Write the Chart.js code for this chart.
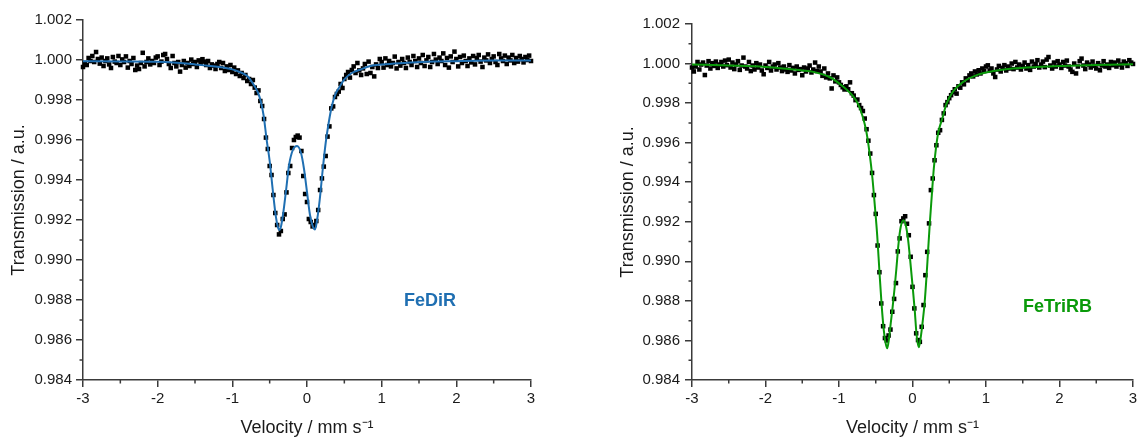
<!DOCTYPE html>
<html>
<head>
  <title>Mössbauer spectra - FeDiR / FeTriRB</title>
  <script src="https://cdn.jsdelivr.net/npm/chart.js"></script>
  <style>
    body { margin: 0; background: #fff; }
    canvas { position: absolute; top: 0; }
    #left { left: 0; }
    #right { left: 600px; }
    .tag { position: absolute; font: bold 18px "Liberation Sans", Arial, sans-serif; white-space: nowrap; }
  </style>
</head>
<body>
  <canvas id="left" width="560" height="439"></canvas>
  <canvas id="right" width="537" height="439"></canvas>
  <div class="tag" style="left:404px; top:290px; color:#1f6fb2">FeDiR</div>
  <div class="tag" style="left:1023px; top:296px; color:#0a9a0a">FeTriRB</div>

  <script>
    // velocity channels (mm/s), shared by both spectra
    const velocity = [
      -3, -2.975, -2.95, -2.925, -2.9, -2.875, -2.85, -2.825, -2.8, -2.775,
      -2.75, -2.725, -2.7, -2.675, -2.65, -2.625, -2.6, -2.575, -2.55, -2.525,
      -2.5, -2.475, -2.45, -2.425, -2.4, -2.375, -2.35, -2.325, -2.3, -2.275,
      -2.25, -2.225, -2.2, -2.175, -2.15, -2.125, -2.1, -2.075, -2.05, -2.025,
      -2, -1.975, -1.95, -1.925, -1.9, -1.875, -1.85, -1.825, -1.8, -1.775,
      -1.75, -1.725, -1.7, -1.675, -1.65, -1.625, -1.6, -1.575, -1.55, -1.525,
      -1.5, -1.475, -1.45, -1.425, -1.4, -1.375, -1.35, -1.325, -1.3, -1.275,
      -1.25, -1.225, -1.2, -1.175, -1.15, -1.125, -1.1, -1.075, -1.05, -1.025,
      -1, -0.975, -0.95, -0.925, -0.9, -0.875, -0.85, -0.825, -0.8, -0.775,
      -0.75, -0.725, -0.7, -0.675, -0.65, -0.625, -0.6, -0.575, -0.55, -0.525,
      -0.5, -0.475, -0.45, -0.425, -0.4, -0.375, -0.35, -0.325, -0.3, -0.275,
      -0.25, -0.225, -0.2, -0.175, -0.15, -0.125, -0.1, -0.075, -0.05, -0.025,
      0, 0.025, 0.05, 0.075, 0.1, 0.125, 0.15, 0.175, 0.2, 0.225,
      0.25, 0.275, 0.3, 0.325, 0.35, 0.375, 0.4, 0.425, 0.45, 0.475,
      0.5, 0.525, 0.55, 0.575, 0.6, 0.625, 0.65, 0.675, 0.7, 0.725,
      0.75, 0.775, 0.8, 0.825, 0.85, 0.875, 0.9, 0.925, 0.95, 0.975,
      1, 1.025, 1.05, 1.075, 1.1, 1.125, 1.15, 1.175, 1.2, 1.225,
      1.25, 1.275, 1.3, 1.325, 1.35, 1.375, 1.4, 1.425, 1.45, 1.475,
      1.5, 1.525, 1.55, 1.575, 1.6, 1.625, 1.65, 1.675, 1.7, 1.725,
      1.75, 1.775, 1.8, 1.825, 1.85, 1.875, 1.9, 1.925, 1.95, 1.975,
      2, 2.025, 2.05, 2.075, 2.1, 2.125, 2.15, 2.175, 2.2, 2.225,
      2.25, 2.275, 2.3, 2.325, 2.35, 2.375, 2.4, 2.425, 2.45, 2.475,
      2.5, 2.525, 2.55, 2.575, 2.6, 2.625, 2.65, 2.675, 2.7, 2.725,
      2.75, 2.775, 2.8, 2.825, 2.85, 2.875, 2.9, 2.925, 2.95, 2.975,
      3
    ];

    // FeDiR measured transmission
    const fediR = [
      0.99965, 0.99985, 0.99975, 1.00010, 0.99995, 1.00020, 0.99990, 1.00040, 1.00005, 0.99982,
      1.00012, 0.99970, 0.99995, 1.00008, 0.99978, 0.99960, 1.00015, 0.99992, 0.99985, 1.00020,
      0.99975, 1.00003, 0.99990, 1.00018, 0.99962, 0.99995, 0.99980, 1.00010, 0.99950, 0.99972,
      0.99955, 0.99985, 1.00036, 0.99968, 0.99990, 1.00008, 0.99978, 0.99995, 0.99985, 1.00012,
      1.00018, 0.99975, 0.99992, 1.00025, 1.00030, 1.00005, 0.99980, 0.99960, 1.00020, 0.99985,
      0.99968, 0.99990, 0.99942, 0.99975, 0.99995, 0.99962, 0.99985, 0.99970, 1.00002, 0.99980,
      0.99990, 0.99965, 0.99998, 0.99985, 1.00004, 0.99992, 0.99975, 0.99995, 0.99960, 0.99978,
      0.99972, 0.99955, 0.99980, 0.99990, 0.99960, 0.99985, 0.99945, 0.99968, 0.99950, 0.99975,
      0.99940, 0.99962, 0.99930, 0.99948, 0.99920, 0.99935, 0.99910, 0.99925, 0.99895, 0.99905,
      0.99880, 0.99900, 0.99862, 0.99835, 0.99848, 0.99795, 0.99770, 0.99705, 0.99612, 0.99555,
      0.99470, 0.99425, 0.99325, 0.99235, 0.99175, 0.99128, 0.99145, 0.99205, 0.99228, 0.99338,
      0.99435, 0.99470, 0.99560, 0.99600, 0.99615, 0.99622, 0.99612, 0.99545, 0.99420, 0.99330,
      0.99290, 0.99205, 0.99190, 0.99168, 0.99175, 0.99195, 0.99250, 0.99350, 0.99408, 0.99467,
      0.99520, 0.99617, 0.99668, 0.99758, 0.99768, 0.99815, 0.99830, 0.99842, 0.99880, 0.99860,
      0.99905, 0.99925, 0.99940, 0.99912, 0.99950, 0.99968, 0.99935, 0.99985, 0.99948, 0.99925,
      0.99958, 0.99980, 0.99930, 0.99992, 0.99935, 0.99965, 0.99918, 0.99978, 0.99960, 1.00005,
      0.99990, 0.99962, 1.00008, 0.99975, 0.99995, 0.99968, 0.99985, 1.00017, 0.99958, 0.99990,
      0.99972, 1.00005, 0.99985, 0.99960, 1.00012, 0.99990, 0.99975, 1.00020, 0.99995, 0.99965,
      1.00008, 0.99985, 1.00025, 0.99970, 0.99998, 1.00015, 0.99965, 0.99990, 1.00030, 1.00002,
      0.99980, 1.00012, 0.99995, 1.00033, 0.99975, 1.00010, 0.99962, 1.00018, 0.99990, 1.00042,
      1.00005, 0.99968, 1.00015, 0.99985, 1.00022, 0.99995, 0.99970, 1.00008, 0.99988, 1.00020,
      0.99978, 1.00010, 1.00025, 0.99992, 0.99965, 1.00012, 0.99998, 1.00028, 0.99985, 1.00005,
      1.00018, 0.99990, 0.99975, 1.00030, 1.00008, 0.99995, 1.00022, 0.99980, 1.00012, 0.99998,
      1.00025, 0.99985, 1.00010, 0.99992, 1.00020, 1.00005, 0.99988, 1.00015, 1.00000, 1.00022,
      0.99995
    ];

    // FeDiR fitted doublet
    const fediRFitX = [
      -3, -2.5, -2, -1.5, -1.2, -1, -0.9, -0.8, -0.72, -0.66, -0.62, -0.58, -0.54, -0.5, -0.46, -0.42,
      -0.39, -0.37, -0.35, -0.32, -0.28, -0.24, -0.19, -0.133, -0.08, -0.04, 0, 0.04, 0.08, 0.107,
      0.135, 0.17, 0.21, 0.25, 0.29, 0.33, 0.38, 0.44, 0.5, 0.6, 0.7, 0.85, 1, 1.3, 1.6, 2, 2.5, 3
    ];
    const fediRFitY = [
      0.99994, 0.99993, 0.99991, 0.99978, 0.99966, 0.99953, 0.99940, 0.99920, 0.99880, 0.99840,
      0.99795, 0.99720, 0.99600, 0.99495, 0.99355, 0.99225, 0.99165, 0.99150, 0.99165, 0.99230,
      0.99350, 0.99475, 0.99550, 0.99570, 0.99535, 0.99455, 0.99340, 0.99225, 0.99165, 0.99153,
      0.99200, 0.99300, 0.99450, 0.99585, 0.99685, 0.99765, 0.99828, 0.99868, 0.99903, 0.99935,
      0.99950, 0.99970, 0.99977, 0.99985, 0.99991, 0.99994, 0.99997, 0.99998
    ];

    // FeTriRB measured transmission
    const feTriRB = [
      0.99980, 0.99960, 0.99985, 1.00008, 0.99970, 0.99995, 1.00005, 0.99942, 0.99990, 1.00012,
      0.99975, 1.00002, 0.99988, 1.00010, 0.99978, 0.99995, 1.00008, 0.99985, 1.00015, 0.99992,
      1.00020, 0.99980, 1.00005, 0.99972, 0.99995, 1.00012, 0.99968, 0.99990, 1.00030, 0.99985,
      0.99975, 1.00008, 0.99962, 0.99990, 0.99970, 1.00002, 0.99980, 0.99995, 0.99965, 0.99946,
      0.99990, 0.99978, 1.00008, 0.99965, 0.99985, 0.99995, 0.99970, 1.00002, 0.99980, 0.99962,
      0.99985, 0.99970, 0.99958, 0.99992, 0.99965, 0.99978, 0.99950, 0.99985, 0.99968, 0.99972,
      0.99941, 0.99980, 0.99960, 0.99975, 0.99990, 0.99955, 0.99970, 1.00005, 0.99962, 0.99985,
      0.99960, 0.99938, 0.99975, 0.99930, 0.99950, 0.99925, 0.99874, 0.99940, 0.99910, 0.99930,
      0.99905, 0.99892, 0.99880, 0.99869, 0.99885, 0.99870, 0.99905, 0.99850, 0.99838, 0.99815,
      0.99818, 0.99790, 0.99775, 0.99760, 0.99722, 0.99668, 0.99610, 0.99545, 0.99447, 0.99335,
      0.99240, 0.99080, 0.98945, 0.98787, 0.98672, 0.98612, 0.98600, 0.98625, 0.98655, 0.98745,
      0.98810, 0.98890, 0.99050, 0.99116, 0.99203, 0.99217, 0.99228, 0.99190, 0.99132, 0.99023,
      0.98871, 0.98762, 0.98636, 0.98602, 0.98593, 0.98669, 0.98779, 0.98930, 0.99048, 0.99192,
      0.99360, 0.99419, 0.99511, 0.99587, 0.99650, 0.99663, 0.99715, 0.99748, 0.99790, 0.99805,
      0.99825, 0.99840, 0.99855, 0.99870, 0.99848, 0.99885, 0.99878, 0.99905, 0.99895, 0.99925,
      0.99915, 0.99940, 0.99950, 0.99935, 0.99960, 0.99945, 0.99966, 0.99950, 0.99975, 0.99962,
      0.99985, 0.99991, 0.99965, 0.99975, 0.99950, 0.99932, 0.99970, 0.99988, 0.99960, 0.99978,
      0.99992, 0.99965, 0.99985, 0.99975, 1.00000, 0.99972, 1.00008, 0.99980, 0.99995, 0.99970,
      0.99988, 1.00005, 0.99975, 0.99992, 0.99968, 1.00010, 0.99985, 0.99998, 1.00017, 0.99980,
      0.99995, 1.00010, 0.99982, 1.00020, 1.00033, 0.99990, 0.99975, 1.00005, 0.99985, 1.00012,
      0.99995, 0.99978, 1.00008, 0.99990, 1.00015, 0.99985, 0.99970, 0.99958, 1.00000, 0.99950,
      0.99985, 1.00012, 1.00025, 0.99990, 0.99972, 1.00005, 0.99995, 0.99980, 1.00010, 0.99988,
      0.99975, 1.00002, 0.99966, 0.99990, 1.00012, 0.99985, 0.99995, 0.99978, 1.00008, 0.99992,
      1.00005, 0.99985, 1.00015, 0.99995, 0.99980, 1.00010, 1.00002, 0.99988, 1.00017, 1.00005,
      0.99998
    ];

    // FeTriRB fitted doublet
    const feTriRBFitX = [
      -3, -2.5, -2, -1.8, -1.5, -1.35, -1.13, -0.95, -0.81, -0.74, -0.68, -0.63, -0.585, -0.545,
      -0.51, -0.48, -0.45, -0.42, -0.39, -0.365, -0.344, -0.32, -0.295, -0.27, -0.245, -0.22,
      -0.19, -0.16, -0.122, -0.09, -0.06, -0.03, 0, 0.03, 0.055, 0.085, 0.11, 0.14, 0.165, 0.19,
      0.21, 0.235, 0.26, 0.29, 0.32, 0.35, 0.41, 0.46, 0.55, 0.68, 0.9, 1.1, 1.36, 1.7, 2.04, 2.5, 3
    ];
    const feTriRBFitY = [
      0.99995, 0.99990, 0.99983, 0.99976, 0.99965, 0.99958, 0.99932, 0.99885, 0.99835, 0.99795,
      0.99735, 0.99660, 0.99550, 0.99420, 0.99270, 0.99130, 0.98950, 0.98780, 0.98650, 0.98585,
      0.98560, 0.98610, 0.98690, 0.98770, 0.98860, 0.98960, 0.99090, 0.99175, 0.99208, 0.99180,
      0.99110, 0.99000, 0.98880, 0.98755, 0.98630, 0.98565, 0.98610, 0.98700, 0.98790, 0.98920,
      0.99040, 0.99190, 0.99320, 0.99470, 0.99575, 0.99650, 0.99728, 0.99795, 0.99858, 0.99905,
      0.99945, 0.99962, 0.99975, 0.99983, 0.99988, 0.99993, 0.99996
    ];

    const xTicks = [-3, -2, -1, 0, 1, 2, 3];
    const xMinor = [-2.5, -1.5, -0.5, 0.5, 1.5, 2.5];
    const yTicks = [0.984, 0.986, 0.988, 0.990, 0.992, 0.994, 0.996, 0.998, 1.000, 1.002];
    const yMinor = [0.985, 0.987, 0.989, 0.991, 0.993, 0.995, 0.997, 0.999, 1.001];

    const AXIS = '#3a3a3a';
    const FONT = '"Liberation Sans", Arial, Helvetica, sans-serif';
    Chart.defaults.font.family = FONT;
    Chart.defaults.color = '#1a1a1a';

    // Origin-style short minor ticks on the outside of both axes
    const minorTicks = {
      id: 'minorTicks',
      afterDraw(chart) {
        const { ctx, chartArea, scales: { x, y } } = chart;
        ctx.save();
        ctx.strokeStyle = AXIS;
        ctx.lineWidth = 1.5;
        ctx.beginPath();
        yMinor.forEach(v => {
          const py = y.getPixelForValue(v);
          ctx.moveTo(chartArea.left - 3.5, py);
          ctx.lineTo(chartArea.left, py);
        });
        xMinor.forEach(v => {
          const px = x.getPixelForValue(v);
          ctx.moveTo(px, chartArea.bottom);
          ctx.lineTo(px, chartArea.bottom + 3.5);
        });
        ctx.stroke();
        ctx.restore();
      }
    };

    function toPoints(xs, ys) {
      return xs.map((v, i) => ({ x: v, y: ys[i] }));
    }

    function makeChart(id, data, fitX, fitY, lineColor, layout) {
      const ctx = document.getElementById(id).getContext('2d');
      return new Chart(ctx, {
        type: 'scatter',
        data: {
          datasets: [
            {
              label: 'fit',
              data: toPoints(fitX, fitY),
              showLine: true,
              borderColor: lineColor,
              borderWidth: 2,
              pointRadius: 0,
              cubicInterpolationMode: 'monotone',
              clip: false
            },
            {
              label: 'data',
              data: toPoints(velocity, data),
              pointStyle: 'rect',
              pointRadius: 3.2,
              pointBorderWidth: 0,
              backgroundColor: '#000',
              borderColor: '#000',
              clip: false
            }
          ]
        },
        options: {
          responsive: false,
          animation: false,
          devicePixelRatio: 1,
          layout: { padding: { top: layout.top, right: layout.right, left: 0, bottom: 0 } },
          plugins: { legend: { display: false }, tooltip: { enabled: false } },
          scales: {
            x: {
              type: 'linear',
              min: -3,
              max: 3,
              afterBuildTicks: s => { s.ticks = xTicks.map(v => ({ value: v })); },
              afterFit: s => { s.height = 59; s.paddingLeft = 0; s.paddingRight = 0; },
              grid: { drawOnChartArea: false, tickLength: 7, color: AXIS, lineWidth: 1.5 },
              border: { display: true, color: AXIS, width: 1.5 },
              ticks: { font: { size: 15 }, padding: 3, maxRotation: 0, autoSkip: false },
              title: {
                display: true,
                text: 'Velocity / mm s\u207B\u00B9',
                font: { size: 18 },
                padding: { top: 0, bottom: 0 }
              }
            },
            y: {
              type: 'linear',
              min: 0.984,
              max: 1.002,
              afterBuildTicks: s => { s.ticks = yTicks.map(v => ({ value: v })); },
              afterFit: s => { s.width = layout.yWidth; },
              grid: { drawOnChartArea: false, tickLength: 7, color: AXIS, lineWidth: 1.5 },
              border: { display: true, color: AXIS, width: 1.5 },
              ticks: { font: { size: 15 }, padding: layout.tickPad, autoSkip: false, callback: v => v.toFixed(3) },
              title: {
                display: true,
                text: 'Transmission / a.u.',
                font: { size: 18 },
                padding: { top: layout.titlePad, bottom: 0 }
              }
            }
          }
        },
        plugins: [minorTicks]
      });
    }

    makeChart('left', fediR, fediRFitX, fediRFitY, '#1f6fb2',
      { top: 20, right: 29, yWidth: 83, tickPad: 4, titlePad: 8.7 });
    makeChart('right', feTriRB, feTriRBFitX, feTriRBFitY, '#0a9a0a',
      { top: 24, right: 3, yWidth: 92, tickPad: 5, titlePad: 17.2 });
  </script>
</body>
</html>
